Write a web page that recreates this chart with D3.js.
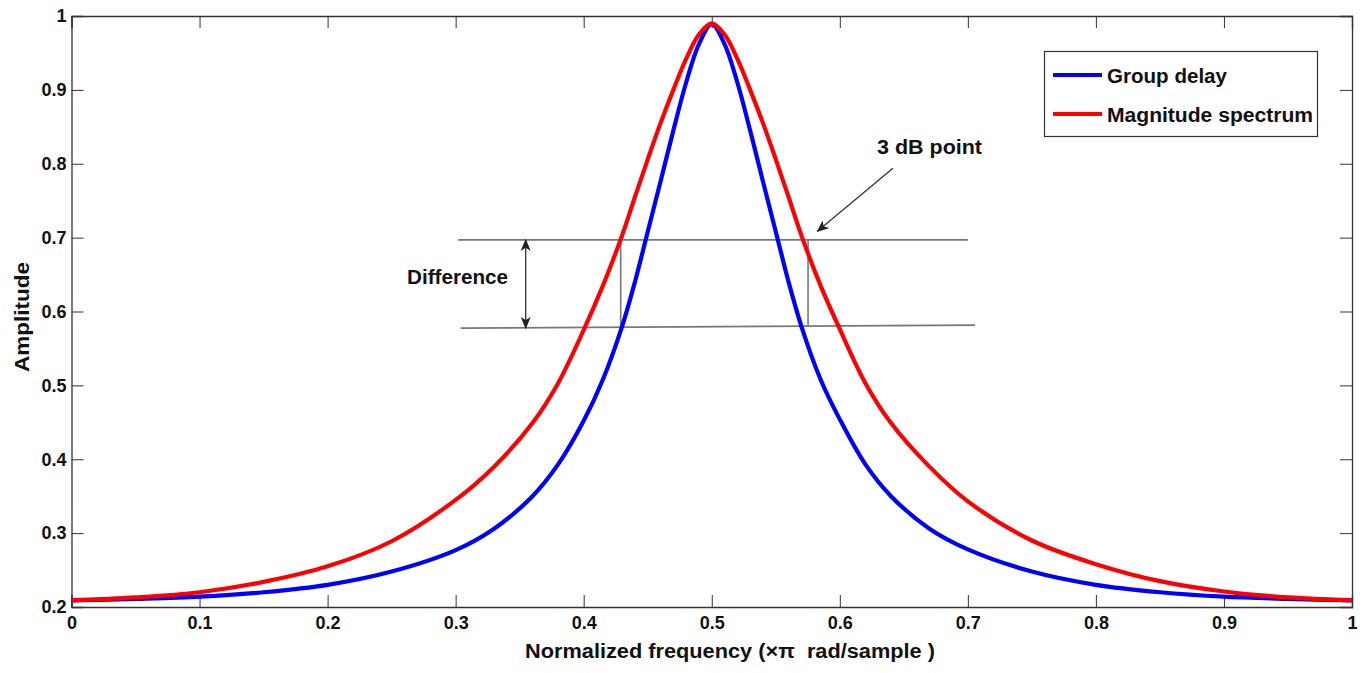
<!DOCTYPE html>
<html lang="en">
<head>
    <meta charset="UTF-8">
    <title>Group delay vs magnitude spectrum</title>
    <script src="https://cdn.jsdelivr.net/npm/d3@7"></script>
    <style>
        body { margin: 0; background: white; }
        text { font-family: "Liberation Sans", Arial, sans-serif; font-weight: bold; fill: #111; }
        .axis path, .axis line { stroke: #333; }
        .guide { stroke: #777; stroke-width: 1.6; fill: none; }
    </style>
</head>
<body>

<script>
    const width = 1371, height = 673;
    const margin = {top: 16, right: 19, bottom: 66, left: 71.5};

    // normalized frequency samples (x pi rad/sample)
    const freq = [0, 0.05, 0.1, 0.15, 0.2, 0.25, 0.3, 0.33, 0.36, 0.38, 0.4, 0.415, 0.43, 0.44, 0.45,
                  0.46, 0.47, 0.48, 0.49, 0.5, 0.51, 0.52, 0.53, 0.54, 0.55, 0.56, 0.57, 0.585, 0.6,
                  0.62, 0.64, 0.67, 0.7, 0.75, 0.8, 0.85, 0.9, 0.95, 1];

    // values
    const groupDelay = [0.209, 0.211, 0.214, 0.220, 0.230, 0.248, 0.277, 0.306, 0.350, 0.393, 0.452, 0.508, 0.580,
                        0.640, 0.708, 0.776, 0.845, 0.910, 0.962, 0.989, 0.962, 0.910, 0.845, 0.776, 0.708,
                        0.640, 0.580, 0.508, 0.454, 0.393, 0.350, 0.306, 0.278, 0.248, 0.230, 0.220, 0.214, 0.211, 0.209];

    const magnitude = [0.209, 0.213, 0.220, 0.234, 0.255, 0.289, 0.345, 0.390, 0.449, 0.503, 0.575, 0.635, 0.703,
                       0.755, 0.806, 0.855, 0.900, 0.942, 0.975, 0.990, 0.975, 0.942, 0.900, 0.855, 0.806,
                       0.755, 0.703, 0.635, 0.576, 0.503, 0.449, 0.390, 0.343, 0.290, 0.258, 0.235, 0.221, 0.213, 0.209];

    const xTicks = [0, 0.1, 0.2, 0.3, 0.4, 0.5, 0.6, 0.7, 0.8, 0.9, 1];
    const xTickLabels = ["0", "0.1", "0.2", "0.3", "0.4", "0.5", "0.6", "0.7", "0.8", "0.9", "1"];
    const yTicks = [0.2, 0.3, 0.4, 0.5, 0.6, 0.7, 0.8, 0.9, 1];
    const yTickLabels = ["0.2", "0.3", "0.4", "0.5", "0.6", "0.7", "0.8", "0.9", "1"];

    const seriesNames = ["Group delay", "Magnitude spectrum"];
    const seriesColors = ["#0000ff", "#ff0000"];

    // annotation geometry in data units
    const upperLevel = [[0.302, 0.697], [0.700, 0.697]];
    const lowerLevel = [[0.304, 0.5775], [0.7056, 0.5815]];
    const dropLines = [[0.4289, 0.697, 0.5775], [0.5752, 0.697, 0.5815]];
    const diffArrow = [0.3547, 0.697, 0.5775];
    const pointArrow = [[0.6415, 0.794], [0.5825, 0.7085]];

    const svg = d3.select("body")
                  .append("svg")
                  .attr("width", width)
                  .attr("height", height);

    const x = d3.scaleLinear().domain([0, 1]).range([margin.left, width - margin.right]);
    const y = d3.scaleLinear().domain([0.2, 1]).range([height - margin.bottom, margin.top]);

    const defs = svg.append("defs");
    defs.append("marker")
        .attr("id", "head")
        .attr("viewBox", "0 0 12 10")
        .attr("refX", 11).attr("refY", 5)
        .attr("markerWidth", 12).attr("markerHeight", 10)
        .attr("markerUnits", "userSpaceOnUse")
        .attr("orient", "auto-start-reverse")
        .append("path")
        .attr("d", "M0,0 L12,5 L0,10 L3,5 Z")
        .attr("fill", "#222");

    // axes: inward ticks on all four sides
    svg.append("g").attr("class", "axis")
        .attr("transform", `translate(0,${y(0.2)})`)
        .call(d3.axisBottom(x).tickValues(xTicks).tickSize(-12).tickPadding(9)
              .tickFormat((d, i) => xTickLabels[i]))
        .call(g => g.selectAll("text").attr("font-size", 18).attr("font-family", null));

    svg.append("g").attr("class", "axis")
        .attr("transform", `translate(0,${y(1)})`)
        .call(d3.axisTop(x).tickValues(xTicks).tickSize(-12).tickFormat(""));

    svg.append("g").attr("class", "axis")
        .attr("transform", `translate(${x(0)},0)`)
        .call(d3.axisLeft(y).tickValues(yTicks).tickSize(-12).tickPadding(5)
              .tickFormat((d, i) => yTickLabels[i]))
        .call(g => g.selectAll("text").attr("font-size", 18).attr("font-family", null));

    svg.append("g").attr("class", "axis")
        .attr("transform", `translate(${x(1)},0)`)
        .call(d3.axisRight(y).tickValues(yTicks).tickSize(-12).tickFormat(""));

    svg.selectAll(".axis path").attr("stroke-width", 1.3);

    // guide lines of the annotation
    const guide = d3.line().x(d => x(d[0])).y(d => y(d[1]));
    svg.append("path").attr("class", "guide").attr("d", guide(upperLevel));
    svg.append("path").attr("class", "guide").attr("d", guide(lowerLevel));
    svg.selectAll("line.drop")
        .data(dropLines)
        .join("line").attr("class", "guide drop")
        .attr("x1", d => x(d[0])).attr("x2", d => x(d[0]))
        .attr("y1", d => y(d[1])).attr("y2", d => y(d[2]))
        .attr("stroke-width", 1.2);

    // curves
    const line = d3.line()
                   .x(d => x(d.f))
                   .y(d => y(d.v))
                   .curve(d3.curveCatmullRom.alpha(0.5));

    [groupDelay, magnitude].forEach(function(values, k) {
        const pts = freq.map((f, i) => ({f: f, v: values[i]}));
        svg.append("path")
            .attr("d", line(pts))
            .attr("fill", "none")
            .attr("stroke", seriesColors[k])
            .attr("stroke-width", 4.2)
            .attr("stroke-linejoin", "round");
    });

    // double arrow "Difference"
    svg.append("line")
        .attr("x1", x(diffArrow[0])).attr("x2", x(diffArrow[0]))
        .attr("y1", y(diffArrow[2])).attr("y2", y(diffArrow[1]))
        .attr("stroke", "#333").attr("stroke-width", 1.3)
        .attr("marker-start", "url(#head)")
        .attr("marker-end", "url(#head)");

    svg.append("text")
        .attr("x", 407).attr("y", 284)
        .attr("font-size", 20)
        .attr("textLength", 101).attr("lengthAdjust", "spacingAndGlyphs")
        .text("Difference");

    // "3 dB point" arrow
    svg.append("line")
        .attr("x1", x(pointArrow[0][0])).attr("y1", y(pointArrow[0][1]))
        .attr("x2", x(pointArrow[1][0])).attr("y2", y(pointArrow[1][1]))
        .attr("stroke", "#333").attr("stroke-width", 1.3)
        .attr("marker-end", "url(#head)");

    svg.append("text")
        .attr("x", 877).attr("y", 154)
        .attr("font-size", 20)
        .attr("textLength", 105).attr("lengthAdjust", "spacingAndGlyphs")
        .text("3 dB point");

    // legend
    const legend = svg.append("g");
    legend.append("rect")
        .attr("x", 1044.5).attr("y", 51.5)
        .attr("width", 273).attr("height", 85)
        .attr("fill", "white").attr("stroke", "#333").attr("stroke-width", 1.2);

    const rows = legend.selectAll("g.row")
        .data(seriesNames)
        .join("g").attr("class", "row")
        .attr("transform", (d, i) => `translate(0,${75 + i * 39})`);

    rows.append("line")
        .attr("x1", 1053).attr("x2", 1102)
        .attr("stroke", (d, i) => seriesColors[i])
        .attr("stroke-width", 4.2);

    rows.append("text")
        .attr("x", 1107).attr("y", 8)
        .attr("font-size", 20)
        .attr("textLength", (d, i) => i ? 206 : 120)
        .attr("lengthAdjust", "spacingAndGlyphs")
        .text(d => d);

    // axis titles
    svg.append("text")
        .attr("x", 525).attr("y", 658)
        .attr("font-size", 20)
        .attr("textLength", 410).attr("lengthAdjust", "spacingAndGlyphs")
        .style("white-space", "pre")
        .text("Normalized frequency (\u00d7\u03c0  rad/sample )");

    svg.append("text")
        .attr("transform", "translate(29,372) rotate(-90)")
        .attr("font-size", 20)
        .attr("textLength", 110).attr("lengthAdjust", "spacingAndGlyphs")
        .text("Amplitude");
</script>

</body>
</html>
